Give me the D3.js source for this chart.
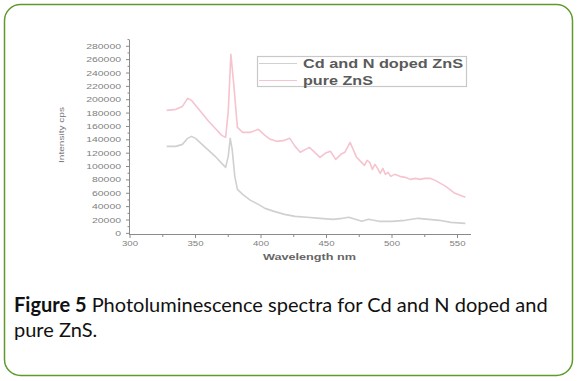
<!DOCTYPE html>
<html><head><meta charset="utf-8">
<script src="https://cdn.jsdelivr.net/npm/d3@7"></script>
<style>body{margin:0;background:#fff}svg{display:block}</style>
</head><body>
<svg id="c" width="577" height="381"></svg>
<script>
// ---- data ----
const pureW = [328,335,340,344,347,350,355,360,365,370,373,375,377,379,382,386,392,398,403,407,412,418,422,426,430,434,437,441,445,449,453,457,461,464,468,471,473,476,479,481,483,485,487,489,491,493,495,497,499,502,506,510,514,518,521,525,529,533,537,541,544,548,552,556];
const pureV = [184000,185600,190000,202000,199000,191600,179600,167700,157200,146700,143700,182600,268000,227500,158700,151200,151200,155700,146700,140700,137700,139200,142200,130200,121300,125700,128700,121300,113800,119800,122800,110800,118300,121300,136200,122800,113800,107800,101800,109300,106300,95800,103300,97300,89800,97300,88300,91300,85300,88300,85300,83800,80800,82300,80800,82300,82300,79300,74800,70400,65900,59900,56900,53900];
const dopedW = [328,335,340,344,347,350,355,360,365,370,373,375,376.5,378,380,382,386,392,398,403,410,418,426,435,445,455,462,467,472,477,482,490,500,510,520,528,536,545,556];
const dopedV = [130200,130200,133200,142200,145200,142200,133200,124300,115300,104800,98800,115300,142200,125700,85300,65900,58400,49400,43400,37400,32900,28400,25400,24000,22500,21000,22500,24000,21000,18000,21000,18000,18000,19500,22500,21000,19500,16500,15000];
const seriesNames = ["Cd and N doped ZnS","pure ZnS"];
const xTicks = [300,350,400,450,500,550];
const yTicks = [0,20000,40000,60000,80000,100000,120000,140000,160000,180000,200000,220000,240000,260000,280000];
const xLabel = "Wavelength nm";
const yLabel = "Intensity cps";
const captionBold = "Figure 5";
const captionLine1 = " Photoluminescence spectra for Cd and N doped and";
const captionLine2 = "pure ZnS.";

const svg = d3.select("#c");
// border
svg.append("rect").attr("x",4.5).attr("y",4.5).attr("width",568).attr("height",371)
  .attr("rx",16).attr("fill","#fff").attr("stroke","#5f9a2c").attr("stroke-width",1.5);

const x = d3.scaleLinear().domain([300,560]).range([130,470.6]);
const y = d3.scaleLinear().domain([-2000,284000]).range([234.7,43.6]);

const axisCol = "#8a8a8a", textCol = "#808080";
const g = svg.append("g");
// y axis
g.append("line").attr("x1",129.5).attr("x2",129.5).attr("y1",40).attr("y2",234).attr("stroke",axisCol);
yTicks.forEach(t=>{
  g.append("line").attr("x1",126).attr("x2",129.5).attr("y1",y(t)).attr("y2",y(t)).attr("stroke",axisCol);
  g.append("line").attr("x1",127.5).attr("x2",129.5).attr("y1",y(t+10000)).attr("y2",y(t+10000)).attr("stroke",axisCol);
  const s = String(t);
  g.append("text").attr("x",121).attr("y",y(t)+2.5).attr("text-anchor","end")
    .attr("font-family","Liberation Sans, Arial").attr("font-size",7).attr("fill",textCol)
    .attr("textLength", s.length*5.8).attr("lengthAdjust","spacingAndGlyphs").text(s);
});
// x axis
g.append("line").attr("x1",129).attr("x2",471).attr("y1",234.5).attr("y2",234.5).attr("stroke",axisCol);
xTicks.forEach(t=>{
  g.append("line").attr("x1",x(t)).attr("x2",x(t)).attr("y1",234.5).attr("y2",238).attr("stroke",axisCol);
  if (t+25<=560) g.append("line").attr("x1",x(t+25)).attr("x2",x(t+25)).attr("y1",234.5).attr("y2",237).attr("stroke",axisCol);
  g.append("text").attr("x",x(t)).attr("y",245.5).attr("text-anchor","middle")
    .attr("font-family","Liberation Sans, Arial").attr("font-size",7).attr("fill",textCol)
    .attr("textLength",16).attr("lengthAdjust","spacingAndGlyphs").text(t);
});
g.append("text").attr("x",263).attr("y",260).attr("font-family","Liberation Sans, Arial")
  .attr("font-weight","bold").attr("font-size",8.5).attr("fill","#666")
  .attr("textLength",93).attr("lengthAdjust","spacingAndGlyphs").text(xLabel);
g.append("text").attr("transform","translate(64,135) rotate(-90)").attr("text-anchor","middle")
  .attr("font-family","Liberation Sans, Arial").attr("font-size",7).attr("fill","#777")
  .attr("textLength",56).attr("lengthAdjust","spacingAndGlyphs").text(yLabel);

// lines
const line = d3.line().x(d=>x(d[0])).y(d=>y(d[1])).curve(d3.curveLinear);
const doped = dopedW.map((w,i)=>[w,dopedV[i]]);
const pure = pureW.map((w,i)=>[w,pureV[i]]);
const cols = ["#d0d0d0","#f5c4ce"];
g.append("path").datum(doped).attr("d",line).attr("fill","none").attr("stroke",cols[0]).attr("stroke-width",1.6).attr("stroke-linejoin","round");
g.append("path").datum(pure).attr("d",line).attr("fill","none").attr("stroke",cols[1]).attr("stroke-width",1.6).attr("stroke-linejoin","round");

// legend
g.append("rect").attr("x",257.5).attr("y",56.5).attr("width",209).attr("height",30)
  .attr("fill","#fff").attr("stroke","#c8c8c8").attr("stroke-width",1.2);
seriesNames.forEach((n,i)=>{
  const yy = 63.5 + i*17;
  g.append("line").attr("x1",259).attr("x2",297).attr("y1",yy).attr("y2",yy).attr("stroke",cols[i]).attr("stroke-width",1.2);
  g.append("text").attr("x",303).attr("y",yy+4.5).attr("font-family","Liberation Sans, Arial")
    .attr("font-weight","bold").attr("font-size",12).attr("fill","#5a5a5a")
    .attr("textLength", i===0?160:70).attr("lengthAdjust","spacingAndGlyphs").text(n);
});

// caption
const cap = svg.append("text").attr("x",14).attr("y",312).attr("font-family","Lato, 'Open Sans', sans-serif")
  .attr("font-size",20).attr("fill","#111");
cap.append("tspan").attr("font-weight","bold").text(captionBold);
cap.append("tspan").text(captionLine1);
svg.append("text").attr("x",14).attr("y",337).attr("font-family","Lato, 'Open Sans', sans-serif")
  .attr("font-size",20).attr("fill","#111").text(captionLine2);
</script>
</body></html>
